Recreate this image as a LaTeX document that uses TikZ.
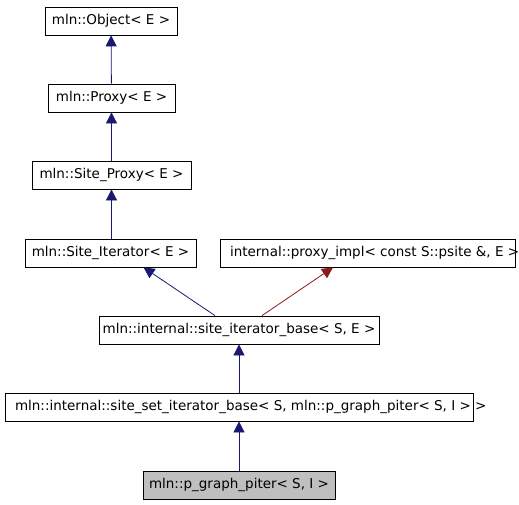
\documentclass[tikz,border=0pt]{standalone}
\usepackage{fontspec}
\setmainfont{DejaVu Sans}
\usetikzlibrary{arrows.meta}
\definecolor{edgeblue}{HTML}{191970}
\definecolor{edgered}{HTML}{8B1A1A}
\definecolor{boxgray}{HTML}{BFBFBF}

\begin{document}
\begin{tikzpicture}[x=1pt, y=-1pt,
        cls/.style={draw, thick, minimum height=28pt, inner xsep=0pt, inner ysep=0pt, font=\fontsize{13.5}{15}\selectfont},
        inh/.style={edgeblue, thick, -{Triangle[width=11pt, length=11pt]}},
        priv/.style={edgered, thick, -{Triangle[width=11pt, length=11pt]}}]
            \useasboundingbox (0,0) rectangle (519,504);

            \node[cls, minimum width=132pt] (obj) at (111,21) {mln::Object< E >};
            \node[cls, minimum width=127pt] (proxy) at (111.5,98) {mln::Proxy< E >};
            \node[cls, minimum width=159pt] (siteproxy) at (111.5,175) {mln::Site\_Proxy< E >};
            \node[cls, minimum width=171pt] (siteiter) at (110.5,253) {mln::Site\_Iterator< E >};
            \node[cls, minimum width=295pt] (proxyimpl) at (367.5,253) {\makebox[275pt][l]{internal::proxy\_impl< const S::psite \&, E >}};
            \node[cls, minimum width=280pt] (sitebase) at (239,330) {mln::internal::site\_iterator\_base< S, E >};
            \node[cls, minimum width=468pt] (setbase) at (239,407) {\makebox[448pt][l]{mln::internal::site\_set\_iterator\_base< S, mln::p\_graph\_piter< S, I > >}};
            \node[cls, minimum width=192pt, fill=boxgray] (piter) at (239,485) {mln::p\_graph\_piter< S, I >};

            \draw[inh] (proxy) -- (obj);
            \draw[inh] (siteproxy) -- (proxy);
            \draw[inh] (siteiter.north -| siteproxy) -- (siteproxy);
            \draw[inh] ([xshift=-24pt]sitebase.north) -- ([xshift=33pt]siteiter.south);
            \draw[priv] ([xshift=23pt]sitebase.north) -- ([xshift=-34.5pt]proxyimpl.south);
            \draw[inh] (setbase) -- (sitebase);
            \draw[inh] (piter) -- (setbase);
        \end{tikzpicture}
\end{document}
